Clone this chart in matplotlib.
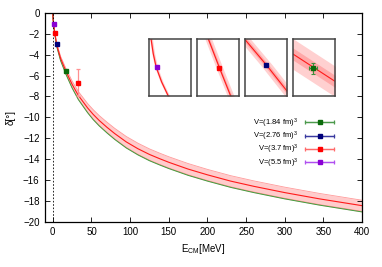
import numpy as np
import matplotlib
matplotlib.use('Agg')
import matplotlib.pyplot as plt
from matplotlib.container import ErrorbarContainer
from matplotlib.legend_handler import HandlerErrorbar

plt.rcParams['font.family'] = ['Liberation Sans', 'DejaVu Sans']
plt.rcParams['mathtext.default'] = 'regular'

# central curve
e_cm = [0, 0.25, 1, 2.6, 5, 10, 17, 25, 33, 45, 52, 60, 70, 80, 95, 110,
        125, 138, 150, 175, 200, 230, 260, 300, 345, 400]
delta = [0, -0.53, -1.05, -1.95, -3.05, -4.35, -5.6, -6.85, -7.9, -9.1,
         -9.7, -10.3, -10.95, -11.55, -12.35, -13.0, -13.55, -13.95, -14.3,
         -14.95, -15.5, -16.1, -16.6, -17.2, -17.8, -18.45]
# band half-widths (upper / lower) along the curve
band_up = [0, 0.03, 0.06, 0.1, 0.14, 0.2, 0.27, 0.32, 0.37, 0.42, 0.45,
           0.47, 0.49, 0.5, 0.52, 0.53, 0.53, 0.53, 0.53, 0.53, 0.52, 0.52,
           0.52, 0.52, 0.52, 0.52]
band_lo = [0, 0.04, 0.07, 0.12, 0.16, 0.22, 0.29, 0.35, 0.4, 0.46, 0.5,
           0.52, 0.54, 0.56, 0.58, 0.59, 0.6, 0.6, 0.6, 0.6, 0.6, 0.6, 0.6,
           0.6, 0.6, 0.6]

# lattice points
green_e, green_d = [16.8], [-5.6]
blue_e, blue_d = [4.8], [-3.0]
red_e, red_d = [2.6], [-1.95]
red2_e, red2_d, red2_err = [33], [-6.7], [1.3]
purple_e, purple_d = [1.0], [-1.05]

labels = ['V=(1.84 fm)$^3$', 'V=(2.76 fm)$^3$', 'V=(3.7 fm)$^3$', 'V=(5.5 fm)$^3$']
mark_cols = ['#0b6b0b', '#00007a', '#ff0000', '#8a00d4']
bar_cols = ['#4c9a4c', '#3a3aa0', '#ff6a6a', '#b050f0']

# insets, in inset units (0..1 box)
ins1_y = [-0.2, 0, 0.25, 0.51, 0.75, 1.0, 1.2]
ins1_x = [0.58, 0.46, 0.30, 0.17, 0.10, 0.05, 0.02]
ins2_y = [-0.2, 0, 0.5, 1.0, 1.2]
ins2_x = [0.91, 0.80, 0.53, 0.27, 0.17]
ins3_y = [-0.3, 0.11, 0.55, 0.98, 1.3]
ins3_x = [1.42, 0.98, 0.51, 0.02, -0.33]
ins4_y = [-0.5, 0.26, 0.74, 1.5]
ins4_x = [2.58, 1.0, 0.0, -1.58]
ins_pts = [(0.19, 0.51), (0.53, 0.50), (0.51, 0.55), (0.48, 0.49)]
ins_cols = [mark_cols[3], mark_cols[2], mark_cols[1], mark_cols[0]]
ins_outer = [0.035, 0.08, 0.14, 0.56]
ins_inner = [0.015, 0.03, 0.06, 0.22]
ins4_xerr, ins4_yerr = 0.1, 0.1

fig = plt.figure(figsize=(3.82, 2.67), dpi=100)
ax = fig.add_axes([0.118, 0.169, 0.830, 0.783])

e = np.array(e_cm)
d = np.array(delta)
up = d + np.array(band_up)
lo = d - np.array(band_lo)
ax.fill_between(e, lo, up, color='#ffcccc', lw=0)
ax.plot(e, up, color='#ff9a9a', lw=0.6)
ax.plot(e, lo + 0.05, color='#ff8a8a', lw=0.6)
ax.plot(e, lo, color='#3f9f3f', lw=0.7)
ax.plot(e, d, color='#ff1a1a', lw=0.8)
ax.axvline(0, color='k', ls=(0, (2, 2)), lw=0.6)

ax.errorbar(red2_e, red2_d, yerr=red2_err, fmt='s', ms=3.5, color=mark_cols[2],
            ecolor='#ff9090', elinewidth=0.9, capsize=1.5, capthick=0.9)
for (xe, yd), mc in zip([(green_e, green_d), (blue_e, blue_d), (red_e, red_d),
                         (purple_e, purple_d)], mark_cols):
    ax.plot(xe, yd, 's', ms=3.5, color=mc, zorder=5)

# legend proxies: horizontal bar with caps
handles = []
for mc, bc in zip(mark_cols, bar_cols):
    h = ax.errorbar([np.nan], [np.nan], xerr=[1], fmt='-s', ms=3, color=bc,
                    mfc=mc, mec=mc, lw=0.9, ecolor=bc, elinewidth=0.9,
                    capsize=1.5, capthick=0.9)
    handles.append(h)
ax.legend(handles, labels, loc='upper right', bbox_to_anchor=(0.912, 0.505),
          frameon=False, fontsize=5.5, markerfirst=False, handlelength=3.8,
          handletextpad=0.9, labelspacing=0.0, borderpad=0, borderaxespad=0,
          handler_map={ErrorbarContainer: HandlerErrorbar(xerr_size=1.9)})

ax.set_xlim(-10, 400)
ax.set_ylim(-20, 0)
ax.set_xticks(range(0, 401, 50))
ax.set_yticks(range(-20, 1, 2))
ax.tick_params(direction='in', length=3.5, width=0.6, top=True, right=True,
               labelsize=7, pad=4)
for s in ax.spines.values():
    s.set_linewidth(0.9)
ax.set_xlabel('E$_{CM}$[MeV]', fontsize=7, labelpad=3)
ax.set_ylabel('δ[°]', fontsize=7, labelpad=5)

ins_lefts = [0.390, 0.516, 0.641, 0.767]
ins_data = [(ins1_x, ins1_y), (ins2_x, ins2_y), (ins3_x, ins3_y), (ins4_x, ins4_y)]
for i, (left, (cx, cy)) in enumerate(zip(ins_lefts, ins_data)):
    ia = fig.add_axes([left, 0.640, 0.110, 0.213])
    cx = np.array(cx)
    ia.fill_betweenx(cy, cx - ins_outer[i], cx + ins_outer[i], color='#ffd0d0', lw=0)
    ia.fill_betweenx(cy, cx - ins_inner[i], cx + ins_inner[i], color='#ffa8a8', lw=0)
    ia.plot(cx, cy, color='#ff1a1a', lw=0.8)
    px, py = ins_pts[i]
    if i == 3:
        ia.errorbar([px], [py], xerr=ins4_xerr, yerr=ins4_yerr, fmt='s', ms=3.5,
                    color=ins_cols[i], ecolor='#3d8f3d', elinewidth=0.8,
                    capsize=1.5, capthick=0.8)
    else:
        ia.plot([px], [py], 's', ms=3.5, color=ins_cols[i])
    ia.set_xlim(0, 1)
    ia.set_ylim(0, 1)
    ia.set_xticks([])
    ia.set_yticks([])
    for s in ia.spines.values():
        s.set_linewidth(1.1)
        s.set_color('#444444')

fig.savefig('out.png', dpi=100)
